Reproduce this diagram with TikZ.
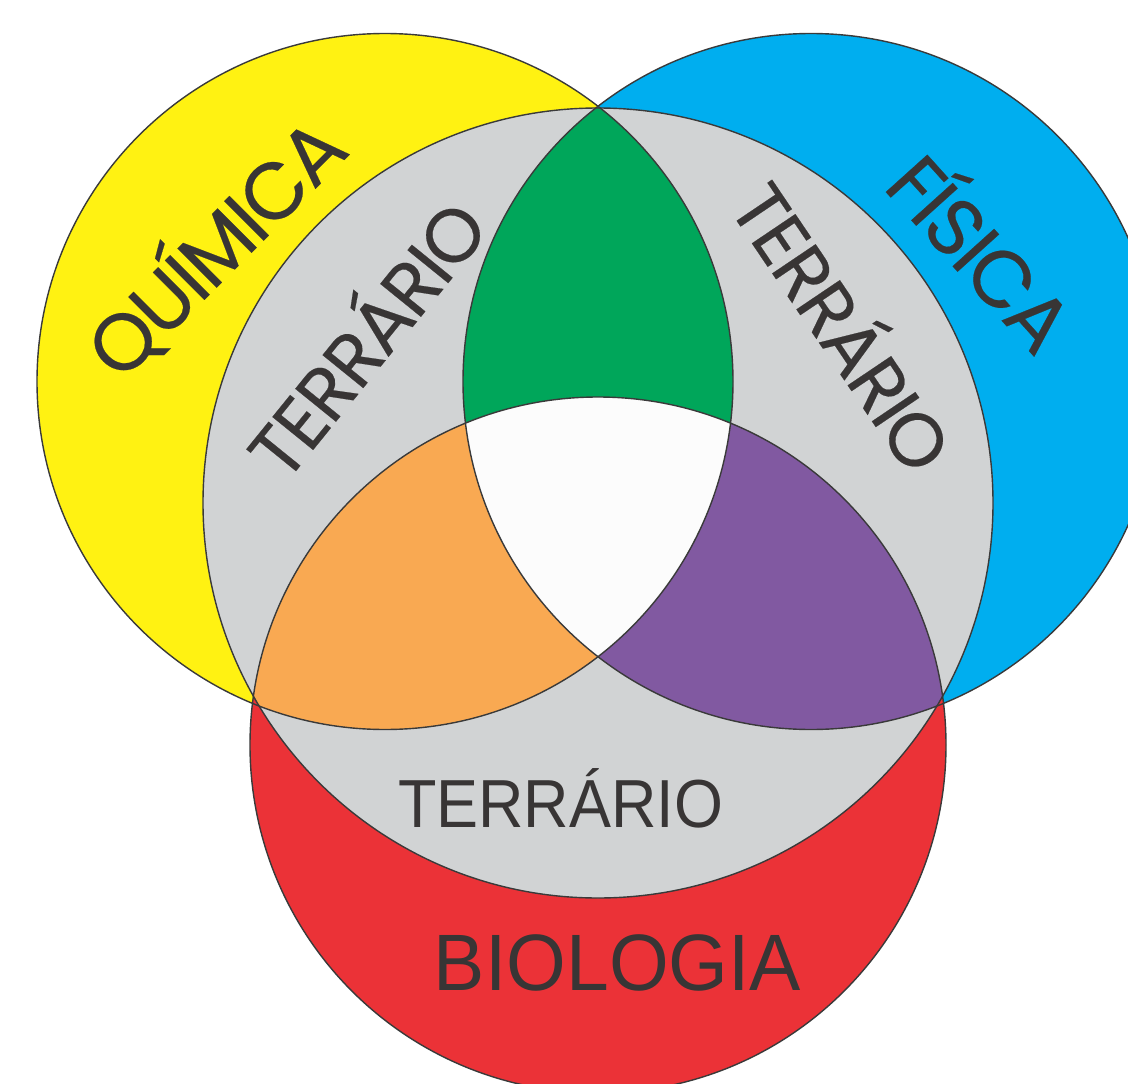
\documentclass[tikz,border=0pt]{standalone}
\usepackage{fontspec}
\setmainfont{Liberation Sans}
\newfontfamily\geofont[LetterSpace=-3,FakeBold=0.25]{Poppins}
\definecolor{cyel}{HTML}{FFF212}
\definecolor{cblu}{HTML}{00AEEF}
\definecolor{cred}{HTML}{EB3237}
\definecolor{cgry}{HTML}{D1D3D4}
\definecolor{cgrn}{HTML}{00A65A}
\definecolor{corg}{HTML}{F9A952}
\definecolor{cpur}{HTML}{8159A1}
\definecolor{ctxt}{HTML}{383535}
\definecolor{cline}{HTML}{3A3A3A}
\tikzset{
  outline/.style={draw=cline, line width=1.4pt},
  arclabel/.style={text=ctxt, inner sep=0pt, anchor=center, text depth=0pt},
  flatlabel/.style={text=ctxt, inner sep=0pt, anchor=base},
}
\begin{document}
\begin{tikzpicture}[x=1pt,y=-1pt]
\useasboundingbox (0,0) rectangle (1128,1084);
\fill[white] (0,0) rectangle (1128,1084);
\begin{scope}
\clip (0,0) rectangle (1128,1084);
% base circles
\fill[cyel] (385,381.5) circle (348);
\fill[cblu] (811,381.5) circle (348);
\fill[cred] (598,745) circle (348);
% terrario
\fill[cgry] (598,503) circle (395);
% pairwise intersections
\begin{scope}
  \clip (598,503) circle (395);
  \begin{scope}\clip (385,381.5) circle (348); \fill[cgrn] (811,381.5) circle (348);\end{scope}
  \begin{scope}\clip (385,381.5) circle (348); \fill[corg] (598,745) circle (348);\end{scope}
  \begin{scope}\clip (811,381.5) circle (348); \fill[cpur] (598,745) circle (348);\end{scope}
  \begin{scope}\clip (385,381.5) circle (348); \clip (811,381.5) circle (348); \fill[white!99!black] (598,745) circle (348);\end{scope}
\end{scope}
% outlines
\draw[outline] (385,381.5) circle (348);
\draw[outline] (811,381.5) circle (348);
\draw[outline] (598,745) circle (348);
\draw[outline] (598,503) circle (395);
\end{scope}
% labels
\node[arclabel, rotate=45, text height=57pt, font=\geofont\fontsize{80}{80}\selectfont] (quim) at (216,248) {QUÍMICA};
\node[arclabel, rotate=-48, text height=57pt, font=\geofont\fontsize{80}{80}\selectfont] (fis) at (980,254) {FÍSICA};
\node[arclabel, rotate=51, text height=53pt, font=\geofont\fontsize{75}{75}\selectfont] (terl) at (368,340) {TERRÁRIO};
\node[arclabel, rotate=-56, text height=53pt, font=\geofont\fontsize{75}{75}\selectfont] (terr) at (841,328) {TERRÁRIO};
\node[flatlabel, xscale=0.925, font=\fontsize{68}{68}\selectfont] (terb) at (560.5,827) {TERRÁRIO};
\node[flatlabel, xscale=0.96, font=\fontsize{80}{80}\selectfont] (bio) at (617.5,990) {BIOLOGIA};
\end{tikzpicture}
\end{document}
